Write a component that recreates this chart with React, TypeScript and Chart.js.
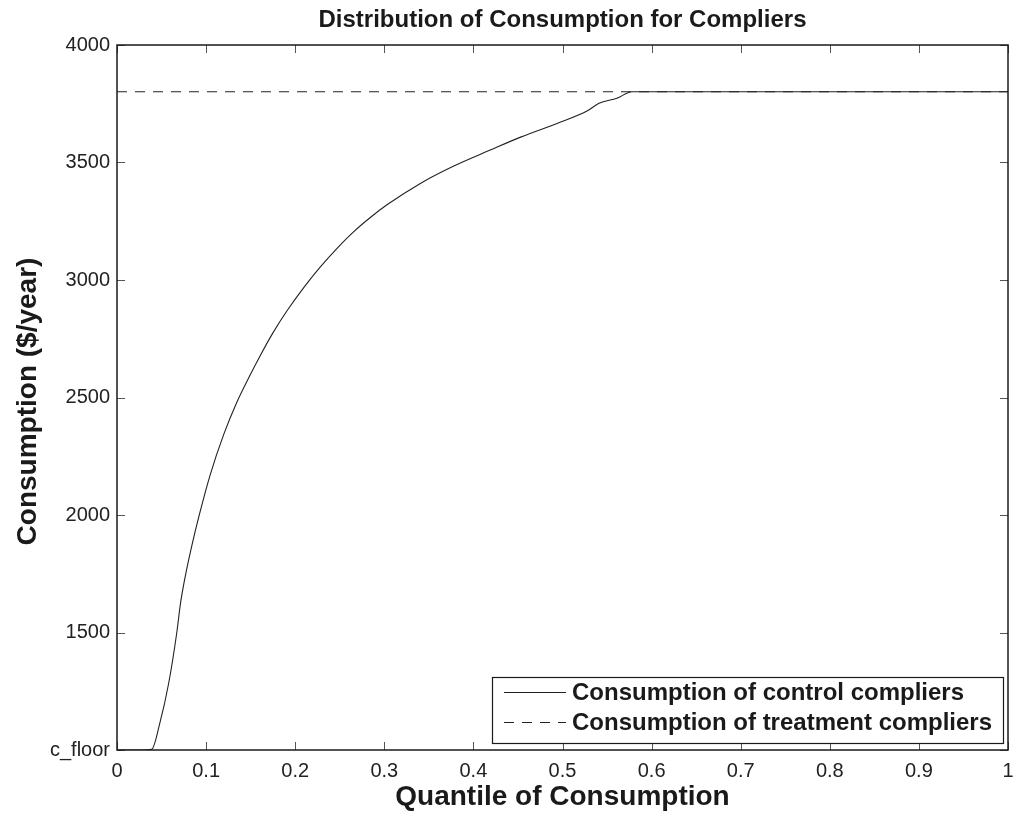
import React, { useEffect, useRef } from "react";
import { Chart, registerables } from "chart.js";

Chart.register(...registerables);

// ---- data ----
const quantiles = [0, 0.03, 0.039, 0.048, 0.058, 0.067, 0.0715, 0.078, 0.084, 0.092, 0.1045, 0.12, 0.1345, 0.15, 0.161, 0.175, 0.191, 0.21, 0.228, 0.247, 0.2655, 0.285, 0.303, 0.34, 0.378, 0.419, 0.453, 0.498, 0.528, 0.541, 0.561, 0.578, 0.7, 0.85, 1.0];
const controlConsumption = [1000, 1000, 1003, 1113, 1284, 1497, 1630, 1765, 1870, 1995, 2170, 2345, 2480, 2600, 2680, 2775, 2870, 2970, 3055, 3135, 3205, 3268, 3320, 3410, 3485, 3553, 3608, 3672, 3720, 3752, 3773, 3801, 3801, 3801, 3801];
const treatmentQuantiles = [0, 1];
const treatmentConsumption = [3801, 3801];

const xTickValues = [0, 0.1, 0.2, 0.3, 0.4, 0.5, 0.6, 0.7, 0.8, 0.9, 1];
const xTickLabels = ["0", "0.1", "0.2", "0.3", "0.4", "0.5", "0.6", "0.7", "0.8", "0.9", "1"];
const yTickValues = [1000, 1500, 2000, 2500, 3000, 3500, 4000];
const yTickLabels = ["c_floor", "1500", "2000", "2500", "3000", "3500", "4000"];

const chartTitle = "Distribution of Consumption for Compliers";
const xTitle = "Quantile of Consumption";
const yTitle = "Consumption ($/year)";
const seriesLabels = ["Consumption of control compliers", "Consumption of treatment compliers"];

const FONT = "'Liberation Sans', Arial, Helvetica, sans-serif";

const matlabPlugin = {
  id: "matlabFrame",
  afterDatasetsDraw(chart: any) {
    const { ctx, chartArea } = chart;
    const { left, right, top, bottom } = chartArea;
    const xs = chart.scales.x;
    const ys = chart.scales.y;
    ctx.save();
    ctx.strokeStyle = "#555";
    ctx.lineWidth = 1;
    const tl = 8;
    ctx.beginPath();
    xTickValues.forEach((v) => {
      const px = Math.round(xs.getPixelForValue(v)) + 0.5;
      ctx.moveTo(px, bottom);
      ctx.lineTo(px, bottom - tl);
      ctx.moveTo(px, top);
      ctx.lineTo(px, top + tl);
    });
    yTickValues.forEach((v) => {
      const py = Math.round(ys.getPixelForValue(v)) + 0.5;
      ctx.moveTo(left, py);
      ctx.lineTo(left + tl, py);
      ctx.moveTo(right, py);
      ctx.lineTo(right - tl, py);
    });
    ctx.stroke();
    ctx.strokeStyle = "#1a1a1a";
    ctx.lineWidth = 1.5;
    ctx.strokeRect(left, top, right - left, bottom - top);
    ctx.restore();
  },
  afterDraw(chart: any) {
    const { ctx, chartArea } = chart;
    const { left, right, top, bottom } = chartArea;
    const cx = (left + right) / 2;
    const cy = (top + bottom) / 2;
    ctx.save();
    ctx.fillStyle = "#1a1a1a";
    ctx.textAlign = "center";
    ctx.textBaseline = "middle";
    ctx.font = `bold 24px ${FONT}`;
    ctx.fillText(chartTitle, cx, 20);
    ctx.font = `bold 28px ${FONT}`;
    ctx.fillText(xTitle, cx, 797);
    ctx.save();
    ctx.translate(28, cy + 4);
    ctx.rotate(-Math.PI / 2);
    ctx.fillText(yTitle, 0, 0);
    ctx.restore();

    const lx = 492, ly = 677, lw = 511, lh = 66;
    ctx.fillStyle = "#fff";
    ctx.fillRect(lx, ly, lw, lh);
    ctx.strokeStyle = "#1a1a1a";
    ctx.lineWidth = 1.2;
    ctx.strokeRect(lx + 0.5, ly + 0.5, lw, lh);
    const rows = [692, 722];
    chart.data.datasets.forEach((ds: any, i: number) => {
      const y = rows[i];
      ctx.strokeStyle = "#222";
      ctx.lineWidth = 1;
      ctx.setLineDash(ds.borderDash || []);
      ctx.beginPath();
      ctx.moveTo(504, y + 0.5);
      ctx.lineTo(566, y + 0.5);
      ctx.stroke();
      ctx.setLineDash([]);
      ctx.fillStyle = "#1a1a1a";
      ctx.textAlign = "left";
      ctx.font = `bold 24px ${FONT}`;
      ctx.fillText(seriesLabels[i], 572, y + 1);
    });
    ctx.restore();
  },
};

export default function App() {
  const ref = useRef<HTMLCanvasElement | null>(null);
  useEffect(() => {
    if (!ref.current) return;
    const chart = new Chart(ref.current, {
      type: "line",
      data: {
        datasets: [
          {
            label: seriesLabels[0],
            data: quantiles.map((q, i) => ({ x: q, y: controlConsumption[i] })),
            borderColor: "#222",
            borderWidth: 1.1,
            pointRadius: 0,
            cubicInterpolationMode: "monotone",
            fill: false,
          },
          {
            label: seriesLabels[1],
            data: treatmentQuantiles.map((q, i) => ({ x: q, y: treatmentConsumption[i] })),
            borderColor: "#222",
            borderWidth: 1,
            borderDash: [10, 8],
            pointRadius: 0,
            fill: false,
          },
        ],
      },
      options: {
        responsive: false,
        animation: false,
        layout: { padding: { left: 0, right: 5, top: 45, bottom: 0 } },
        plugins: { legend: { display: false }, title: { display: false }, tooltip: { enabled: false } },
        scales: {
          x: {
            type: "linear",
            min: 0,
            max: 1,
            afterFit: (s: any) => { s.height = 63; s.paddingLeft = 0; s.paddingRight = 0; },
            afterBuildTicks: (s: any) => { s.ticks = xTickValues.map((v) => ({ value: v })); },
            ticks: {
              callback: (v: any) => xTickLabels[xTickValues.findIndex((t) => Math.abs(t - v) < 1e-9)],
              font: { family: FONT, size: 20 },
              color: "#222",
              padding: 9,
              maxRotation: 0,
              autoSkip: false,
            },
            grid: { display: false, drawTicks: false },
            border: { display: false },
          },
          y: {
            type: "linear",
            min: 1000,
            max: 4000,
            afterFit: (s: any) => { s.width = 117; s.paddingTop = 0; s.paddingBottom = 0; },
            afterBuildTicks: (s: any) => { s.ticks = yTickValues.map((v) => ({ value: v })); },
            ticks: {
              callback: (v: any) => yTickLabels[yTickValues.indexOf(v)],
              font: { family: FONT, size: 20 },
              color: "#222",
              padding: 7,
              autoSkip: false,
            },
            grid: { display: false, drawTicks: false },
            border: { display: false },
          },
        },
      },
      plugins: [matlabPlugin],
    } as any);
    return () => chart.destroy();
  }, []);
  return (
    <div style={{ position: "absolute", left: 0, top: 0, width: 1013, height: 813, background: "#fff" }}>
      <canvas ref={ref} width={1013} height={813} />
    </div>
  );
}
